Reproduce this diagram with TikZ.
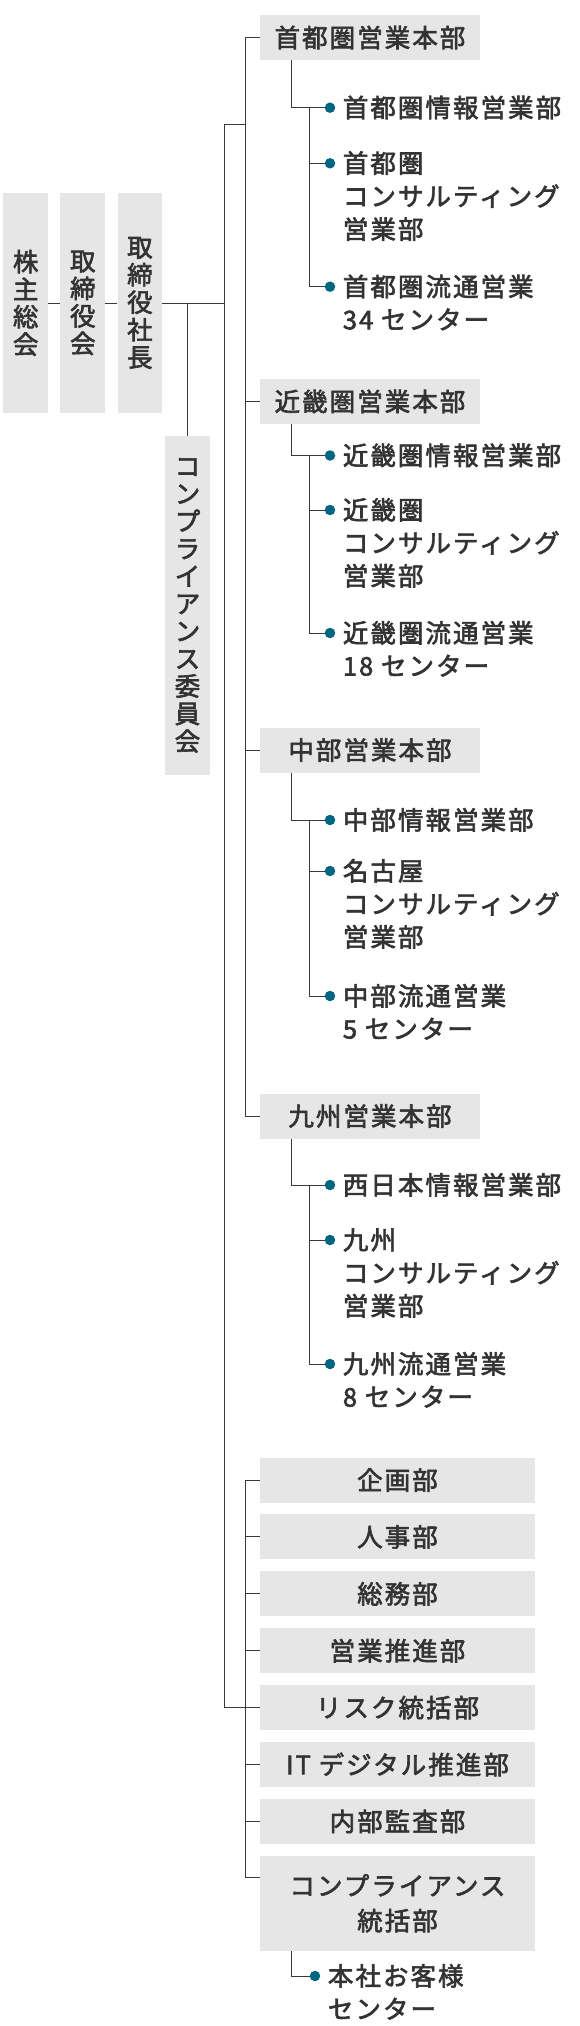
\documentclass[tikz,border=0pt]{standalone}
\usepackage{fontspec}
\setmainfont{Noto Sans CJK JP}[LetterSpace=8, FakeBold=2.4]
\usetikzlibrary{positioning}
\definecolor{boxGray}{HTML}{E6E6E6}
\definecolor{inkGray}{HTML}{333333}
\definecolor{lineGray}{HTML}{3A3A3A}
\definecolor{dotTeal}{HTML}{00667F}
\newcommand{\rows}[1]{\begin{tabular}[t]{@{}l@{}}#1\end{tabular}}
\tikzset{
  vbox/.style={fill=boxGray, minimum width=44.7pt, minimum height=220pt, inner sep=0pt, align=center, font=\fontsize{25.5}{27.5}\selectfont},
  hqbox/.style={fill=boxGray, minimum width=220pt, minimum height=45pt, inner sep=0pt},
  deptbox/.style={fill=boxGray, minimum width=275pt, minimum height=45pt, inner sep=0pt, align=center},
  item/.style={anchor=base west, inner sep=0pt, xshift=12.7pt, yshift=-9.5pt},
  dot/.style={circle, fill=dotTeal, minimum size=10.5pt, inner sep=0pt},
  link/.style={draw=lineGray, line width=1pt}
}

\begin{document}
\begin{tikzpicture}[x=1pt, y=-1pt, text=inkGray, font=\fontsize{25.5}{33}\selectfont]
\useasboundingbox (0,0) rectangle (580,2026);
% top management
\node[vbox] (soukai) at (25.7,303) {株\\主\\総\\会};
\node[vbox, right=12pt of soukai] (torikai) {取\\締\\役\\会};
\node[vbox, right=12pt of torikai] (shacho) {取\\締\\役\\社\\長};
\node[vbox, minimum width=45pt, minimum height=339pt] (iinkai) at (187.5,605.5) {コ\\ン\\プ\\ラ\\イ\\ア\\ン\\ス\\委\\員\\会};
\coordinate (rt) at (245.7,124);
\coordinate (st) at (224.3,124);

% regional HQs
\node[hqbox] (shuto) at (370,37.5) {首都圏営業本部};
\node[hqbox] (kinki) at (370,401.5) {近畿圏営業本部};
\node[hqbox] (chubu) at (370,750) {中部営業本部};
\node[hqbox] (kyushu) at (370,1116) {九州営業本部};

\node[dot] (d11) at (330,107.7) {};
\node[item] (t11) at (d11) {首都圏情報営業部};
\node[dot] (d12) at (330,163.3) {};
\node[item] (t12) at (d12) {\rows{首都圏\\コンサルティング\\営業部}};
\node[dot] (d13) at (330,286.7) {};
\node[item] (t13) at (d13) {\rows{首都圏流通営業\\34 センター}};

\node[dot] (d21) at (330,455.5) {};
\node[item] (t21) at (d21) {近畿圏情報営業部};
\node[dot] (d22) at (330,510) {};
\node[item] (t22) at (d22) {\rows{近畿圏\\コンサルティング\\営業部}};
\node[dot] (d23) at (330,633) {};
\node[item] (t23) at (d23) {\rows{近畿圏流通営業\\18 センター}};

\node[dot] (d31) at (330,820) {};
\node[item] (t31) at (d31) {中部情報営業部};
\node[dot] (d32) at (330,871) {};
\node[item] (t32) at (d32) {\rows{名古屋\\コンサルティング\\営業部}};
\node[dot] (d33) at (330,996) {};
\node[item] (t33) at (d33) {\rows{中部流通営業\\5 センター}};

\node[dot] (d41) at (330,1185) {};
\node[item] (t41) at (d41) {西日本情報営業部};
\node[dot] (d42) at (330,1240) {};
\node[item] (t42) at (d42) {\rows{九州\\コンサルティング\\営業部}};
\node[dot] (d43) at (330,1364) {};
\node[item] (t43) at (d43) {\rows{九州流通営業\\8 センター}};

% head office departments
\node[deptbox] (kikaku) at (397.5,1480) {企画部};
\node[deptbox, below=11.5pt of kikaku] (jinji) {人事部};
\node[deptbox, below=11.5pt of jinji] (soumu) {総務部};
\node[deptbox, below=11.5pt of soumu] (suishin) {営業推進部};
\node[deptbox, below=11.5pt of suishin] (risk) {リスク統括部};
\node[deptbox, below=11.5pt of risk] (itdx) {IT デジタル推進部};
\node[deptbox, below=11.5pt of itdx] (kansa) {内部監査部};
\node[deptbox, below=11.5pt of kansa, minimum height=95pt] (compl) {コンプライアンス\\[2pt]統括部};
\node[dot] (d51) at (315,1976) {};
\node[item] (t51) at (d51) {\rows{本社お客様\\センター}};

% connectors
\draw[link] (soukai) -- (torikai);
\draw[link] (torikai) -- (shacho);
\draw[link] (shacho.east) -- (shacho.east -| st);
\draw[link] (iinkai.north) -- (iinkai.north |- shacho.east);
\draw[link] (rt) -- (st) |- (risk.west);
\draw[link] (shuto.west) -- ++(-14.3,0) |- (kyushu.west);
\draw[link] (kinki.west) -- (kinki.west -| rt);
\draw[link] (chubu.west) -- (chubu.west -| rt);
\foreach \hq/\g in {shuto/1, kinki/2, chubu/3, kyushu/4}{
  \draw[link] ([xshift=32pt]\hq.south west) |- (d\g1.west);
  \draw[link] ([xshift=-15pt]d\g1.west) |- (d\g3.west);
  \draw[link] ([xshift=-15pt]d\g1.west |- d\g2.west) -- (d\g2.west);
}
\draw[link] (kikaku.west) -- ++(-14.3,0) |- ([yshift=-22pt]compl.north west);
\foreach \n in {jinji, soumu, suishin, itdx, kansa}
  \draw[link] (\n.west) -- ++(-14.3,0);
\draw[link] ([xshift=32pt]compl.south west) |- (d51.west);
\end{tikzpicture}
\end{document}
